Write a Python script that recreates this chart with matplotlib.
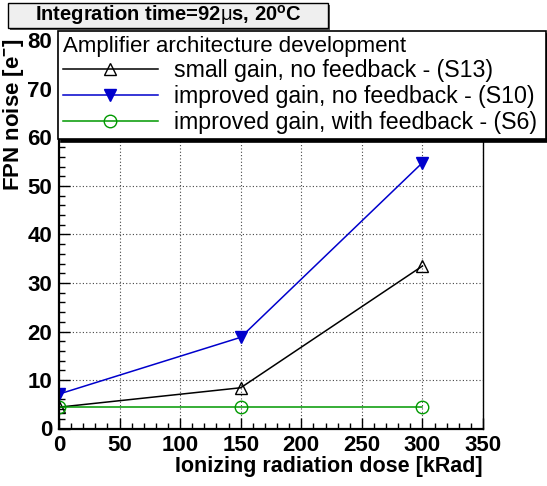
import matplotlib
matplotlib.use("Agg")
import matplotlib.pyplot as plt
from matplotlib.patches import Rectangle
from matplotlib.ticker import MultipleLocator

plt.rcParams["font.family"] = "Liberation Sans"
plt.rcParams["mathtext.fontset"] = "custom"
plt.rcParams["mathtext.rm"] = "Liberation Sans"
plt.rcParams["mathtext.bf"] = "Liberation Sans:bold"
plt.rcParams["mathtext.it"] = "Liberation Sans:italic"

dose = [0, 150, 300]
s13 = [4.4, 8.4, 33.5]
s10 = [7.1, 18.8, 54.8]
s6 = [4.5, 4.5, 4.5]

labels = ["small gain, no feedback - (S13)",
          "improved gain, no feedback - (S10)",
          "improved gain, with feedback - (S6)"]

W, H = 547, 486
fig = plt.figure(figsize=(W / 100, H / 100), dpi=100)
ax = fig.add_axes([59 / W, 1 - 428.5 / H, 424 / W, 388 / H])

l1, = ax.plot(dose, s13, color="black", lw=1.1, marker="^", ms=9,
              mfc="none", mec="black", mew=1.0)
l2, = ax.plot(dose, s10, color="#0000cc", lw=1.1, marker="v", ms=9,
              mfc="#0000cc", mec="#0000cc")
l3, = ax.plot(dose, s6, color="#009900", lw=1.1, marker="o", ms=9,
              mfc="none", mec="#009900", mew=1.0)

ax.set_xlim(0, 350)
ax.set_ylim(0, 80)
ax.xaxis.set_major_locator(MultipleLocator(50))
ax.xaxis.set_minor_locator(MultipleLocator(10))
ax.yaxis.set_major_locator(MultipleLocator(10))
ax.yaxis.set_minor_locator(MultipleLocator(2))
ax.tick_params(which="both", direction="in", width=1.0, labelsize=16)
ax.tick_params(which="major", length=8, pad=5)
ax.tick_params(which="minor", length=4)
for lab in ax.get_xticklabels() + ax.get_yticklabels():
    lab.set_fontweight("bold")
for sp in ax.spines.values():
    sp.set_linewidth(1.0)
ax.spines["left"].set_linewidth(1.6)
ax.spines["bottom"].set_linewidth(1.6)

ax.grid(True, which="major", color="#444444", linestyle=(0, (1, 2)), lw=0.8)

ax.set_xlabel("Ionizing radiation dose [kRad]", fontsize=15.5, fontweight="bold", loc="right")
ax.xaxis.set_label_coords(1.0, -0.072)
ax.set_ylabel(r"FPN noise [e$^{\mathbf{-}}$]", fontsize=16, fontweight="bold", loc="top")
ax.yaxis.set_label_coords(-0.078, 1.005)

leg = fig.legend([l1, l2, l3], labels,
                 title="Amplifier architecture development",
                 loc="upper left", mode="expand",
                 bbox_to_anchor=(58 / W, 1 - 137 / H, 488 / W, 106 / H),
                 fontsize=16.7, title_fontsize=16, alignment="left",
                 handlelength=4.1, handletextpad=0.7, labelspacing=0.12,
                 borderpad=0.2, borderaxespad=0,
                 fancybox=False, framealpha=1, edgecolor="black",
                 shadow={"ox": 2.2, "oy": -2.2, "facecolor": "black",
                         "edgecolor": "black", "alpha": 1})
leg.get_frame().set_linewidth(1.2)
leg.get_title().set_fontsize(16)

# title box
fig.patches.append(Rectangle((10 / W, 1 - 30 / H), 320 / W, 25 / H,
                             transform=fig.transFigure, fc="#555555", ec="none"))
fig.patches.append(Rectangle((8 / W, 1 - 28 / H), 320 / W, 25 / H,
                             transform=fig.transFigure, fc="#efefef", ec="black", lw=1.0))
fig.text(168 / W, 1 - 15.5 / H, r"Integration time=92$\mathrm{\mu}$s, 20$^{\mathbf{o}}$C",
         fontsize=14.5, fontweight="bold", ha="center", va="center")

fig.savefig("out.png", dpi=100)
